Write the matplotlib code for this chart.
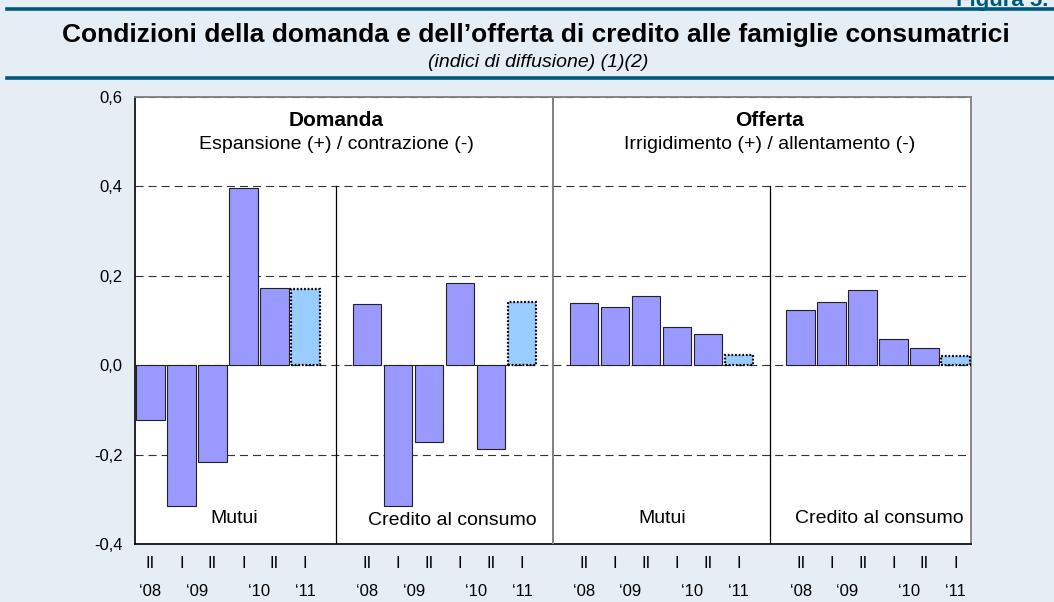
import numpy as np
import matplotlib
matplotlib.use("Agg")
import matplotlib.pyplot as plt
from matplotlib import font_manager
from matplotlib.ticker import FuncFormatter

# dati (indici di diffusione)
semestri = ["II", "I", "II", "I", "II", "I"]
anni = ["\u201808", "\u201809", "\u201810", "\u201811"]
anni_pos = [0, 1.5, 3.5, 5]          # posizione dell'anno dentro il gruppo

domanda_mutui = [-0.122, -0.316, -0.216, 0.397, 0.173, 0.171]
domanda_credito = [0.138, -0.315, -0.171, 0.184, -0.187, 0.142]
offerta_mutui = [0.139, 0.130, 0.154, 0.085, 0.070, 0.022]
offerta_credito = [0.124, 0.141, 0.168, 0.059, 0.038, 0.020]
gruppi = [domanda_mutui, domanda_credito, offerta_mutui, offerta_credito]
etichette_gruppi = ["Mutui", "Credito al consumo", "Mutui", "Credito al consumo"]

bg = "#E5EDF5"
blu = "#00587E"
col_bar = "#9999FF"
col_prev = "#99CCFF"

nomi = {f.name for f in font_manager.fontManager.ttflist}
narrow = "Liberation Sans Narrow" if "Liberation Sans Narrow" in nomi else "Liberation Sans"
plt.rcParams["font.family"] = ["Liberation Sans", "DejaVu Sans"]
plt.rcParams["lines.scale_dashes"] = False

fig = plt.figure(figsize=(10.54, 6.02), dpi=100, facecolor=bg)

# intestazione
fig.add_artist(plt.Line2D([7 / 1054, 1], [1 - 9 / 602] * 2, color=blu, lw=2.6))
fig.add_artist(plt.Line2D([7 / 1054, 1], [1 - 78 / 602] * 2, color=blu, lw=2.6))
fig.text(956 / 1054, 1 - 6 / 602, "Figura 5.", color=blu, fontsize=16,
         fontweight="bold", ha="left", va="baseline", family=[narrow, "DejaVu Sans"])
fig.text(536 / 1054, 1 - 42 / 602,
         "Condizioni della domanda e dell\u2019offerta di credito alle famiglie consumatrici",
         ha="center", va="baseline", fontsize=19, fontweight="bold",
         family=[narrow, "DejaVu Sans"])
fig.text(538 / 1054, 1 - 67 / 602, "(indici di diffusione) (1)(2)", ha="center",
         va="baseline", fontsize=14, style="italic", family=[narrow, "DejaVu Sans"])

ax = fig.add_axes([135 / 1054, 1 - 544 / 602, 836 / 1054, 447 / 602])
ax.set_facecolor("white")

xpos = []
for g, valori in enumerate(gruppi):
    x = np.arange(6) + 7 * g
    xpos.append(x)
    ax.bar(x[:5], valori[:5], width=0.92, color=col_bar, edgecolor="#222222",
           linewidth=0.8, zorder=3)
    ax.bar(x[5:], valori[5:], width=0.92, color=col_prev, edgecolor="black",
           linewidth=1.6, linestyle=(0, (1.3, 1.3)), zorder=3)

ax.set_xlim(-0.5, 26.5)
ax.set_ylim(-0.4, 0.6)
ax.set_yticks(np.arange(-0.4, 0.61, 0.2))
ax.yaxis.set_major_formatter(FuncFormatter(lambda v, p: f"{v:.1f}".replace(".", ",").replace("-0,0", "0,0")))
ax.yaxis.grid(True, color="#333333", lw=0.8, linestyle=(0, (5.8, 3.6)))
ax.set_axisbelow(True)

ax.xaxis.remove_overlapping_locs = False
ax.set_xticks(np.concatenate(xpos))
ax.set_xticklabels(semestri * 4)
ax.set_xticks([7 * g + p for g in range(4) for p in anni_pos], minor=True)
ax.set_xticklabels(anni * 4, minor=True)
ax.tick_params(axis="x", which="major", length=0, pad=9, labelsize=12)
ax.tick_params(axis="x", which="minor", length=0, pad=29, labelsize=12)
ax.tick_params(axis="y", length=0, pad=9, labelsize=12)

for s in ["left", "bottom"]:
    ax.spines[s].set_color("black")
    ax.spines[s].set_linewidth(1.2)
for s in ["top", "right"]:
    ax.spines[s].set_color("#808080")
    ax.spines[s].set_linewidth(1.3)

# separatori
ax.axvline(13, color="#808080", lw=1.4, zorder=4)
ax.plot([6, 6], [-0.4, 0.4], color="black", lw=0.9, zorder=4)
ax.plot([20, 20], [-0.4, 0.4], color="black", lw=0.9, zorder=4)

ax.text(6, 0.5355, "Domanda", ha="center", va="baseline", fontsize=15, fontweight="bold")
ax.text(6, 0.483, "Espansione (+) / contrazione (-)", ha="center", va="baseline", fontsize=14)
ax.text(20, 0.5355, "Offerta", ha="center", va="baseline", fontsize=15, fontweight="bold")
ax.text(20, 0.483, "Irrigidimento (+) / allentamento (-)", ha="center", va="baseline", fontsize=14)

centri_lab = [2.7, 9.74, 16.52, 23.53]
base_lab = [-0.352, -0.357, -0.352, -0.352]
for c, b, lab in zip(centri_lab, base_lab, etichette_gruppi):
    ax.text(c, b, lab, ha="center", va="baseline", fontsize=14)

fig.savefig("out.png", dpi=100, facecolor=bg)
